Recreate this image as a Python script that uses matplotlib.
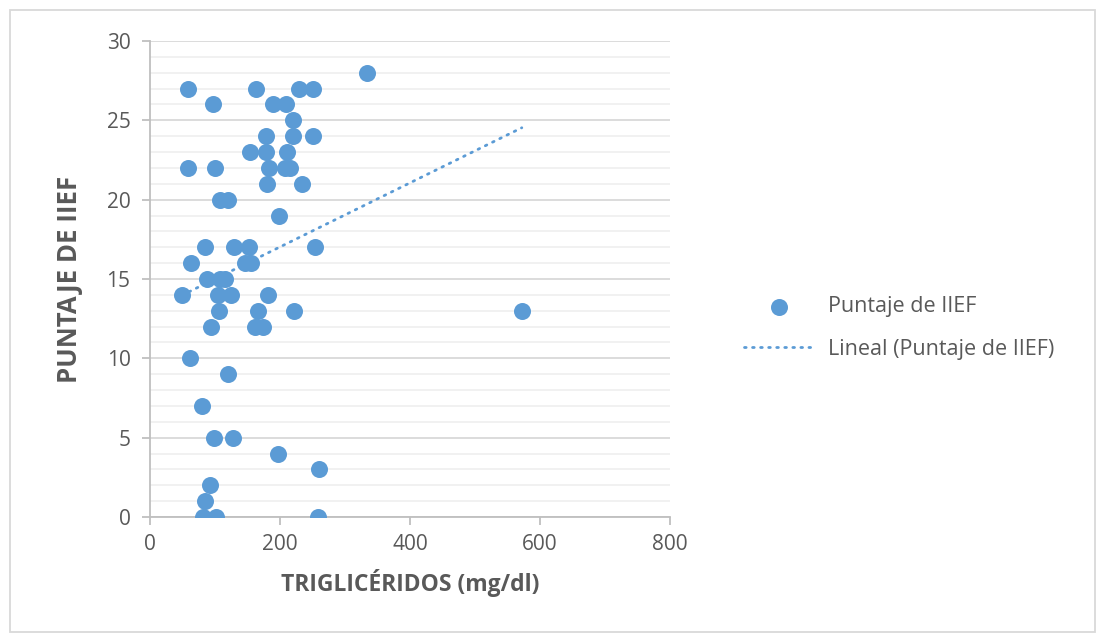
import numpy as np
import matplotlib
matplotlib.use("Agg")
import matplotlib.pyplot as plt
from matplotlib.patches import Rectangle

# triglicéridos (mg/dl) vs puntaje IIEF
trig = [58, 163, 229, 251, 334, 97, 189, 209, 220, 178, 220, 251,
        154, 178, 211, 58, 100, 183, 208, 215, 180, 234, 108, 120, 198,
        85, 129, 152, 254, 63, 146, 155, 88, 108, 115, 49, 105, 125, 182,
        106, 166, 222, 572, 94, 162, 174, 62, 120, 80, 98, 127, 197, 260,
        93, 85, 82, 101, 258]
iief = [27, 27, 27, 27, 28, 26, 26, 26, 25, 24, 24, 24,
        23, 23, 23, 22, 22, 22, 22, 22, 21, 21, 20, 20, 19,
        17, 17, 17, 17, 16, 16, 16, 15, 15, 15, 14, 14, 14, 14,
        13, 13, 13, 13, 12, 12, 12, 10, 9, 7, 5, 5, 4, 3,
        2, 1, 0, 0, 0]

blue = "#5B9BD5"
grey_txt = "#595959"
plt.rcParams['font.family'] = ['Open Sans', 'DejaVu Sans']

fig = plt.figure(figsize=(11.06, 6.42), dpi=100)
ax = fig.add_axes([150/1106, 1-517/642, 520/1106, 476/642])

ax.scatter(trig, iief, s=150, color=blue, zorder=3, label="Puntaje de IIEF",
           linewidths=0)

# linear trend line
x = np.array(trig, dtype=float)
y = np.array(iief, dtype=float)
b, a = np.polyfit(x, y, 1)
xs = np.array([x.min(), x.max()])
ax.plot(xs, a + b*xs, color=blue, lw=2, linestyle=(0, (0.6, 2.3)),
        dash_capstyle='round', zorder=2, label="Lineal (Puntaje de IIEF)")

ax.set_xlim(0, 800)
ax.set_ylim(0, 30)
ax.set_xticks(np.arange(0, 801, 200))
ax.set_yticks(np.arange(0, 31, 5))
ax.set_yticks(np.arange(0, 31, 1), minor=True)
ax.grid(True, which='major', axis='y', color='#d9d9d9', lw=1.3, zorder=0)
ax.grid(True, which='minor', axis='y', color='#f0f0f0', lw=1.3, zorder=0)
ax.set_axisbelow(True)
for s in ['top', 'right']:
    ax.spines[s].set_visible(False)
for s in ['left', 'bottom']:
    ax.spines[s].set_color('#bfbfbf')
    ax.spines[s].set_linewidth(1.3)
ax.tick_params(axis='both', which='major', colors='#bfbfbf', labelcolor=grey_txt,
               labelsize=15, length=6, width=1.3)
ax.tick_params(axis='y', which='minor', length=0)
ax.tick_params(axis='x', pad=6)
ax.tick_params(axis='y', pad=8)

ax.set_xlabel("TRIGLICÉRIDOS (mg/dl)", fontsize=16.5, fontweight='bold',
              color=grey_txt, labelpad=10)
ax.set_ylabel("PUNTAJE DE IIEF", fontsize=18.5, fontweight='bold',
              color=grey_txt, labelpad=17)

leg = fig.legend(loc='center left', bbox_to_anchor=(725/1106, 1-328/642),
                 frameon=False, fontsize=15.5, labelcolor=grey_txt,
                 handlelength=3.2, labelspacing=1.0, handletextpad=0.7)

fig.patches.append(Rectangle((10/1106, 10/642), 1085/1106, 622/642,
                             transform=fig.transFigure, fill=False,
                             edgecolor='#d9d9d9', lw=1.3))

fig.savefig("out.png", dpi=100, facecolor='white')
